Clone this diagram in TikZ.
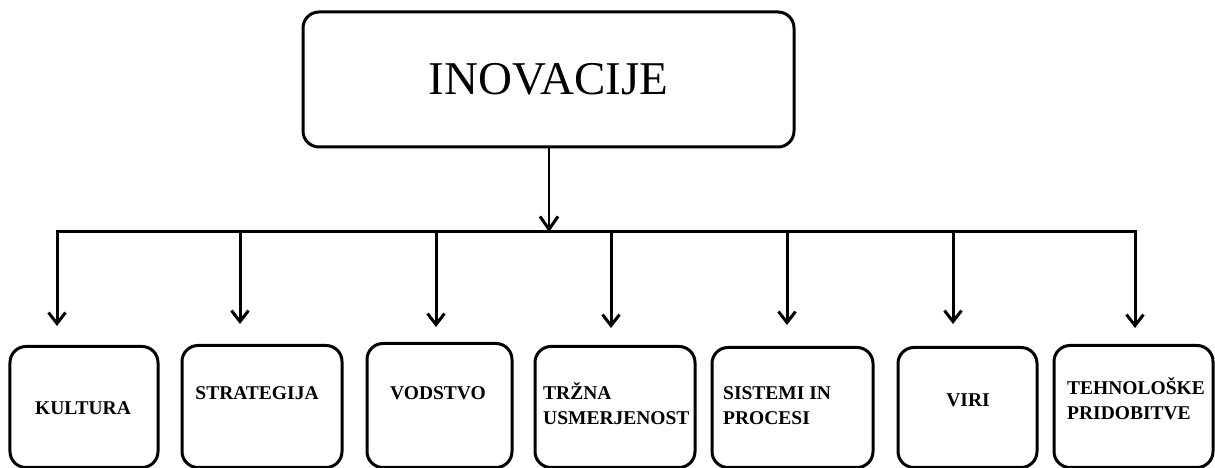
\documentclass[tikz,border=0pt]{standalone}
\usepackage{fontspec}
\setmainfont{Liberation Serif}
\usetikzlibrary{arrows.meta}
\tikzset{
  mainbox/.style={draw, line width=3bp, rounded corners=16bp, minimum width=491bp, minimum height=135bp, inner sep=0pt,
    font=\fontsize{47bp}{50bp}\selectfont, text height=31bp, text depth=0pt},
  catbox/.style={draw, line width=3bp, rounded corners=16bp, inner sep=0pt, anchor=south},
  lbl/.style={font=\fontsize{19.5bp}{25bp}\selectfont\bfseries, inner sep=0pt, align=left},
  conn/.style={line width=3bp},
  arr/.style={line width=3bp, -{Straight Barb[length=11bp,width=17bp,line width=3bp]}},
  arrmain/.style={line width=2.2bp, -{Straight Barb[length=13bp,width=18bp,line width=3bp]}}
}
\begin{document}
\begin{tikzpicture}[x=1bp,y=-1bp]
\useasboundingbox (0,0) rectangle (1215,468);
% main box
\node[mainbox] (top) at (548.5,79.5) {INOVACIJE};
% category boxes (their bottoms run past the lower edge)
\node[catbox, minimum width=148bp, minimum height=121bp] (k1) at (84,469) {};
\node[catbox, minimum width=160bp, minimum height=122bp] (k2) at (262,469) {};
\node[catbox, minimum width=145bp, minimum height=124bp] (k3) at (439.5,469) {};
\node[catbox, minimum width=160bp, minimum height=121bp] (k4) at (615,469) {};
\node[catbox, minimum width=161bp, minimum height=120bp] (k5) at (792.5,469) {};
\node[catbox, minimum width=139bp, minimum height=120bp] (k6) at (967.5,469) {};
\node[catbox, minimum width=159bp, minimum height=122bp] (k7) at (1133.5,469) {};
% labels
\node[lbl, anchor=base] (t1) at (83,414.5) {KULTURA};
\node[lbl, anchor=base] (t2) at (257,399.5) {STRATEGIJA};
\node[lbl, anchor=base] (t3) at (438,399.5) {VODSTVO};
\node[lbl, anchor=base west] (t4) at (543,424.5) {TRŽNA\\USMERJENOST};
\node[lbl, anchor=base west] (t5) at (723,424.5) {SISTEMI IN\\PROCESI};
\node[lbl, anchor=base] (t6) at (968,406.5) {VIRI};
\node[lbl, anchor=base west] (t7) at (1067,419.5) {TEHNOLOŠKE\\PRIDOBITVE};
% bus coordinates
\coordinate (bus) at (549,232);
\coordinate (b1) at (57,232);
\coordinate (b2) at (240,232);
\coordinate (b3) at (436,232);
\coordinate (b4) at (611,232);
\coordinate (b5) at (787,232);
\coordinate (b6) at (953,232);
\coordinate (b7) at (1135,232);
\coordinate (e1) at (57,326);
\coordinate (e2) at (240,324);
\coordinate (e3) at (436,327);
\coordinate (e4) at (611,328);
\coordinate (e5) at (787,325);
\coordinate (e6) at (953,324);
\coordinate (e7) at (1135,328);
% connectors
\draw[arrmain] (top.south -| bus) -- (bus);
\draw[conn, line cap=rect] (b1) -- (b7);
\foreach \i in {1,...,7}{\draw[arr] (b\i) -- (e\i);}
\end{tikzpicture}
\end{document}
